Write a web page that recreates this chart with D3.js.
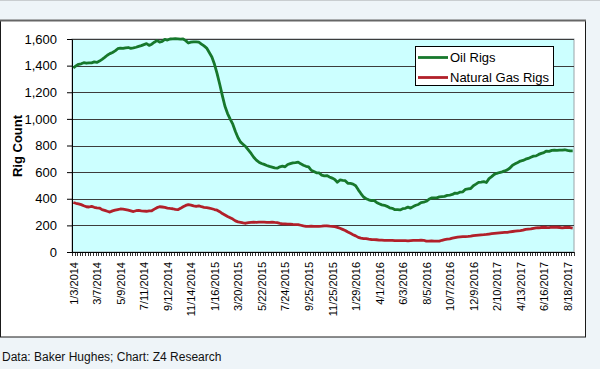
<!DOCTYPE html>
<html><head><meta charset="utf-8">
<script src="https://cdn.jsdelivr.net/npm/d3@7"></script>
<style>
body{margin:0;background:#eef4f8;}
svg{display:block;font-family:Arial,"Liberation Sans",sans-serif;}
</style>
</head><body>
<svg id="chart" width="600" height="369"></svg>
<script>
// ---- data (weekly, first week 1/3/2014) ----
const startWeek = "2014-01-03";
const tickLabels = ["1/3/2014","3/7/2014","5/9/2014","7/11/2014","9/12/2014","11/14/2014",
  "1/16/2015","3/20/2015","5/22/2015","7/24/2015","9/25/2015","11/25/2015",
  "1/29/2016","4/1/2016","6/3/2016","8/5/2016","10/7/2016","12/9/2016",
  "2/10/2017","4/13/2017","6/16/2017","8/18/2017"];
const labelEvery = 9;
const yTicks = [0,200,400,600,800,1000,1200,1400,1600];
const seriesNames = ["Oil Rigs","Natural Gas Rigs"];
const oilRigs = [
  // 2014
  1382,1398,1410,1414,1422,1418,1420,1421,1428,1424,
  1434,1447,1462,1478,1490,1499,1511,1527,1532,1529,
  1534,1536,1530,1533,1538,1545,1550,1558,1565,1552,
  1561,1576,1588,1577,1582,1597,1592,1600,1601,1602,
  1601,1599,1600,1588,1570,1576,1579,1578,1576,1562,
  1548,1532,
  // 2015
  1499,1465,1410,1340,1260,1175,1095,1040,998,960,
  905,858,825,808,790,765,740,712,690,675,
  665,658,650,643,638,632,630,640,645,640,
  657,664,670,672,675,662,652,644,640,614,
  605,595,594,578,572,574,564,555,545,524,
  541,538,
  // 2016
  536,516,515,510,498,467,439,413,400,392,
  386,387,372,362,354,351,343,332,328,318,
  318,316,325,328,337,330,341,351,357,371,
  374,381,396,406,406,407,414,416,418,425,
  428,432,443,441,450,452,471,474,477,498,
  510,523,525,
  // 2017
  529,522,551,566,583,591,597,602,609,617,
  631,652,662,672,683,688,697,703,712,720,
  722,733,741,747,758,756,763,765,764,766,
  765,768,763,759,759
];
const gasRigs = [
  // 2014
  372,366,362,356,347,340,338,343,336,332,
  330,318,313,306,300,309,315,319,323,322,
  318,314,309,304,310,312,309,307,306,309,
  310,322,333,340,338,335,330,327,325,320,
  318,328,340,350,356,352,346,343,347,340,
  336,333,
  // 2015
  330,325,319,314,303,289,278,267,257,247,
  234,226,223,219,216,220,222,224,223,224,
  224,224,223,223,225,222,220,215,212,211,
  210,209,207,206,206,201,196,193,192,194,
  193,192,193,194,196,197,194,193,190,185,
  178,170,
  // 2016
  162,150,140,130,121,110,104,101,100,96,
  94,93,92,89,89,88,87,87,87,85,
  86,86,86,85,84,86,88,88,87,89,
  88,82,81,84,82,81,82,88,93,96,
  99,104,108,112,114,115,116,117,119,123,
  125,127,129,
  // 2017
  130,132,135,138,140,142,144,146,147,148,
  151,154,157,159,161,164,170,172,173,178,
  181,182,184,186,184,183,186,187,186,184,
  182,184,185,184,180
];
const categories = oilRigs.map((_, i) => d3.timeDay.offset(new Date(startWeek + "T00:00:00"), 7 * i));

// ---- layout ----
const svg = d3.select("#chart");
const P = {left:72, right:574, top:39, bottom:252};
const oilColor = "#17782c", gasColor = "#b1202a";

svg.append("rect").attr("x",0).attr("y",0).attr("width",600).attr("height",1).attr("fill","#c9cdd0");
svg.append("rect").attr("x",0.5).attr("y",20.5).attr("width",585).attr("height",316.5)
  .attr("fill","#fff").attr("stroke","#1a1a1a");
svg.append("line").attr("x1",0).attr("x2",586).attr("y1",20.5).attr("y2",20.5)
  .attr("stroke","#666").attr("stroke-width",2);

const x = d3.scaleBand().domain(d3.range(categories.length)).range([P.left, P.right]).paddingInner(0).paddingOuter(0);
const xc = i => x(i) + x.bandwidth()/2;
const y = d3.scaleLinear().domain([0,1600]).range([P.bottom, P.top]);

svg.append("rect").attr("x",P.left).attr("y",P.top).attr("width",P.right-P.left).attr("height",P.bottom-P.top)
  .attr("fill","#ccffff").attr("stroke","#9aa4a8");

// gridlines
svg.append("g").selectAll("line").data(yTicks.filter(v => v > 0)).join("line")
  .attr("x1",P.left).attr("x2",P.right)
  .attr("y1",d => Math.round(y(d))+0.5).attr("y2",d => Math.round(y(d))+0.5)
  .attr("stroke","#3c3c3c").attr("stroke-width",1);

// y axis
const yAxis = svg.append("g").attr("transform",`translate(${P.left},0)`)
  .call(d3.axisLeft(y).tickValues(yTicks).tickFormat(d3.format(",")).tickSize(5).tickPadding(10).tickSizeOuter(0));
yAxis.selectAll("text").attr("font-size",13).attr("fill","#000").style("font-family","Arial,'Liberation Sans',sans-serif");
yAxis.selectAll("line,path").attr("stroke","#000");

svg.append("text").attr("transform",`translate(22,146) rotate(-90)`).attr("text-anchor","middle")
  .attr("font-size",13).attr("font-weight","bold").text("Rig Count");

// x axis: ticks at category boundaries
const bounds = d3.range(categories.length + 1).map(i => i === categories.length ? P.right : x(i));
svg.append("g").selectAll("line").data(bounds).join("line")
  .attr("x1",d => Math.round(d)+0.5).attr("x2",d => Math.round(d)+0.5)
  .attr("y1",P.bottom).attr("y2",P.bottom+4).attr("stroke","#000").attr("stroke-width",0.8);
svg.append("line").attr("x1",P.left).attr("x2",P.right).attr("y1",P.bottom+0.5).attr("y2",P.bottom+0.5).attr("stroke","#000");

svg.append("g").selectAll("text").data(tickLabels).join("text")
  .attr("transform",(d,i) => `translate(${xc(i*labelEvery)+0.5},262) rotate(-90)`)
  .attr("text-anchor","end").attr("dy","0.35em").attr("font-size",11).attr("fill","#000")
  .text(d => d);

// lines
const line = d3.line().x((d,i) => xc(i)).y(d => y(d));
svg.append("path").datum(gasRigs).attr("d",line).attr("fill","none").attr("stroke",gasColor).attr("stroke-width",2.8).attr("stroke-linejoin","round");
svg.append("path").datum(oilRigs).attr("d",line).attr("fill","none").attr("stroke",oilColor).attr("stroke-width",2.8).attr("stroke-linejoin","round");

// legend
const lg = svg.append("g");
lg.append("rect").attr("x",415.5).attr("y",46.5).attr("width",138).attr("height",39).attr("fill","#fff").attr("stroke","#000");
[oilColor, gasColor].forEach((c,i) => {
  const yy = 57.5 + i*20;
  lg.append("line").attr("x1",418).attr("x2",448).attr("y1",yy).attr("y2",yy).attr("stroke",c).attr("stroke-width",2.8);
  lg.append("text").attr("x",450).attr("y",yy).attr("dy","0.35em").attr("font-size",13).text(seriesNames[i]);
});

svg.append("text").attr("x",2).attr("y",361).attr("font-size",12).attr("fill","#111")
  .text("Data: Baker Hughes; Chart: Z4 Research");
</script>
</body></html>
